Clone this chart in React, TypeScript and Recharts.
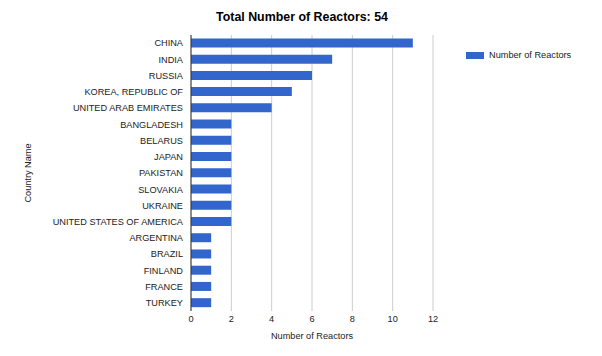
import { Bar, BarChart, CartesianGrid, XAxis, YAxis } from "recharts";

const countries = [
  "CHINA",
  "INDIA",
  "RUSSIA",
  "KOREA, REPUBLIC OF",
  "UNITED ARAB EMIRATES",
  "BANGLADESH",
  "BELARUS",
  "JAPAN",
  "PAKISTAN",
  "SLOVAKIA",
  "UKRAINE",
  "UNITED STATES OF AMERICA",
  "ARGENTINA",
  "BRAZIL",
  "FINLAND",
  "FRANCE",
  "TURKEY",
];
const reactors = [11, 7, 6, 5, 4, 2, 2, 2, 2, 2, 2, 2, 1, 1, 1, 1, 1];
const xTicks = [0, 2, 4, 6, 8, 10, 12];

const data = countries.map((name, i) => ({ name, reactors: reactors[i] }));

const FONT = "'Liberation Sans', Arial, sans-serif";
const BLUE = "#3366cc";
const TEXT = "#222222";
const FS = 9.2;

// keeps long country names on one line
function CountryTick(props: any) {
  const { x, y, payload } = props;
  return (
    <text x={x} y={y} dy={3.3} textAnchor="end" fill={TEXT} fontSize={FS} fontFamily={FONT}>
      {payload.value}
    </text>
  );
}

export default function App() {
  return (
    <div style={{ position: "absolute", left: 0, top: 0, width: 602, height: 356, background: "#fff" }}>
      <div
        style={{
          position: "absolute",
          top: 10,
          left: 0,
          width: 604,
          textAlign: "center",
          fontFamily: FONT,
          fontWeight: "bold",
          fontSize: 12.4,
          color: "#000",
        }}
      >
        Total Number of Reactors: 54
      </div>
      <div
        style={{
          position: "absolute",
          top: 50,
          left: 466,
          display: "flex",
          alignItems: "center",
          fontFamily: FONT,
          fontSize: FS,
          color: TEXT,
        }}
      >
        <span style={{ display: "inline-block", width: 18, height: 7, background: BLUE, marginRight: 5 }} />
        Number of Reactors
      </div>
      <BarChart
        width={602}
        height={356}
        data={data}
        layout="vertical"
        margin={{ top: 35, right: 169, bottom: 0, left: 0 }}
        barCategoryGap="21%"
      >
        <CartesianGrid horizontal={false} stroke="#cccccc" />
        <XAxis
          type="number"
          domain={[0, 12]}
          ticks={xTicks}
          axisLine={false}
          tickLine={false}
          tickSize={0}
          tickMargin={4}
          tick={{ fill: TEXT, fontSize: FS, fontFamily: FONT }}
          height={45}
          label={{
            value: "Number of Reactors",
            position: "insideBottom",
            offset: 17,
            fill: TEXT,
            fontSize: FS,
            fontFamily: FONT,
          }}
        />
        <YAxis
          type="category"
          dataKey="name"
          width={191}
          interval={0}
          axisLine={{ stroke: "#333333" }}
          tickLine={false}
          tickSize={6}
          tick={<CountryTick />}
          label={{
            value: "Country Name",
            angle: -90,
            position: "insideLeft",
            offset: 28,
            fill: TEXT,
            fontSize: FS,
            fontFamily: FONT,
            style: { textAnchor: "middle" },
          }}
        />
        <Bar dataKey="reactors" name="Number of Reactors" fill={BLUE} isAnimationActive={false} />
      </BarChart>
    </div>
  );
}
